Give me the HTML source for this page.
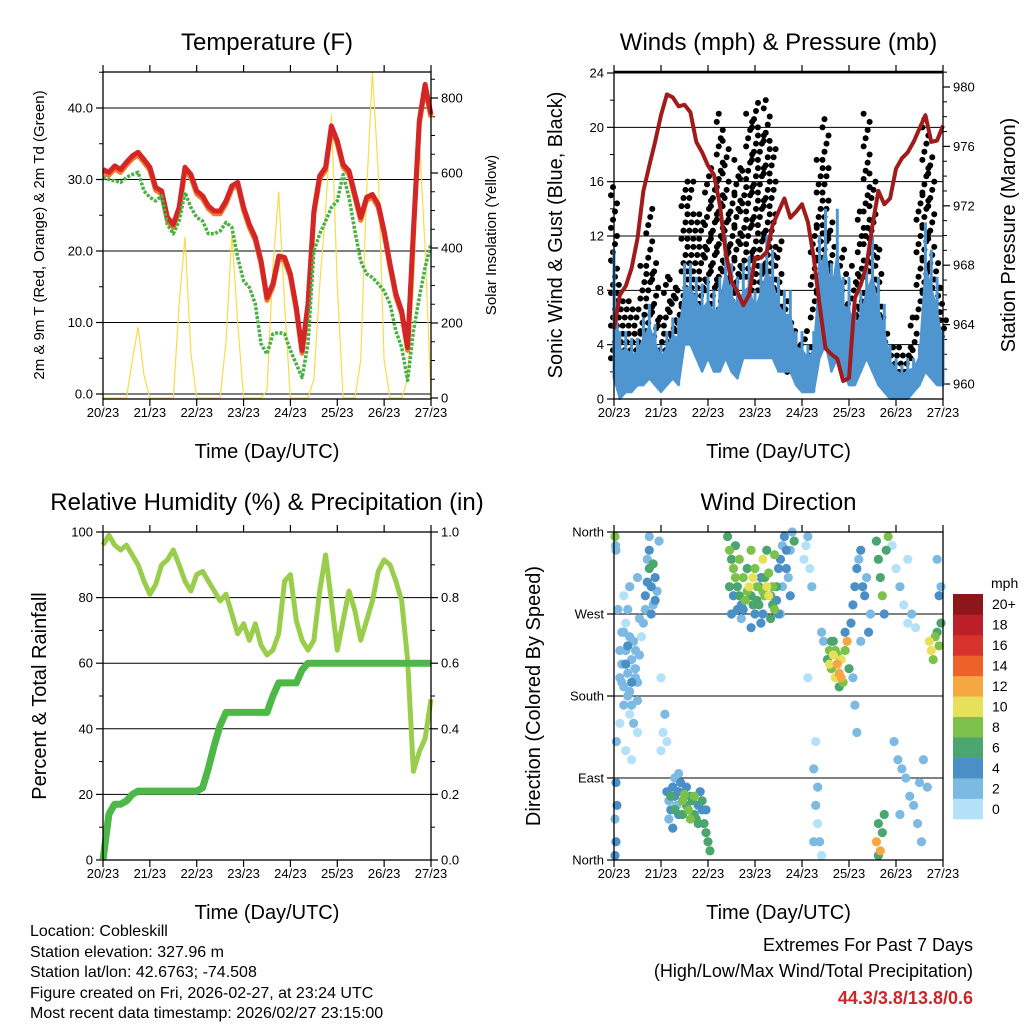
<!DOCTYPE html>
<html><head><meta charset="utf-8">
<style>
html,body{margin:0;padding:0;background:#fff;}
svg{display:block;font-family:"Liberation Sans Narrow","Liberation Sans",sans-serif;}
</style></head>
<body>
<svg id="fig" width="1024" height="1024" viewBox="0 0 1024 1024" xmlns="http://www.w3.org/2000/svg">
<g id="g1"></g>
<g id="g2"></g>
<g id="g3"></g>
<g id="g4"></g>
<g id="gtext" font-size="16" fill="#000">
<text x="30" y="936">Location: Cobleskill</text>
<text x="30" y="957">Station elevation: 327.96 m</text>
<text x="30" y="977">Station lat/lon: 42.6763; -74.508</text>
<text x="30" y="998">Figure created on Fri, 2026-02-27, at 23:24 UTC</text>
<text x="30" y="1018">Most recent data timestamp: 2026/02/27 23:15:00</text>
<text x="973" y="951" text-anchor="end" font-size="18">Extremes For Past 7 Days</text>
<text x="973" y="977" text-anchor="end" font-size="18">(High/Low/Max Wind/Total Precipitation)</text>
<text x="973" y="1004" text-anchor="end" font-size="18" font-weight="bold" fill="#c8282d">44.3/3.8/13.8/0.6</text>
</g>
</svg>
<script>
// ---------- data (3-hourly samples, hours since 20/23) ----------
const dayLabels=["20/23","21/23","22/23","23/23","24/23","25/23","26/23","27/23"];
const tempRed=[31.4,31.0,31.9,31.4,32.4,33.3,33.8,32.8,31.7,28.9,28.4,24.7,23.7,26.1,31.7,30.7,28.4,27.7,26.3,25.6,25.6,27.0,29.1,29.6,26.1,23.7,21.9,18.6,13.5,15.4,19.3,19.1,16.8,12.1,6.1,12.6,25.6,30.5,31.7,37.5,35.4,32.1,31.2,27.9,24.7,27.5,27.9,26.5,22.8,18.2,14.0,11.6,6.5,22.8,38.2,43.3,39.1];
const dewGreen=[30.3,30.0,29.8,29.6,30.3,30.7,31.0,28.4,27.5,27.0,27.7,23.7,22.4,24.2,28.2,26.1,24.7,24.2,22.4,22.4,22.8,24.0,23.3,19.1,15.8,14.9,12.6,7.0,5.6,8.4,8.6,8.4,6.1,4.2,2.3,7.0,20.0,22.4,24.2,26.1,27.0,30.7,27.5,22.8,18.6,16.8,16.3,15.4,14.4,12.6,8.8,6.5,1.9,8.8,13.5,17.7,21.0];
const solar=[0,0,0,0,0,100,190,60,0,0,0,0,0,250,430,120,0,0,0,0,0,150,440,200,0,0,0,0,20,350,550,250,0,0,0,0,50,300,500,755,300,0,0,0,100,550,870,600,100,0,0,0,50,300,690,400,0];
const pressure=[963.7,966.0,966.6,967.8,969.8,973.0,974.7,976.3,978.1,979.5,979.3,978.7,978.8,978.3,976.3,975.6,974.7,974.1,972.1,968.9,966.9,966.2,965.3,966.0,968.5,968.5,968.9,970.7,971.6,972.5,971.2,971.6,972.1,970.9,968.5,965.3,962.4,962.0,961.7,960.2,960.4,965.8,966.7,968.0,970.7,973.0,972.1,972.5,974.5,975.2,975.6,976.3,977.2,978.1,976.3,976.4,977.4];
const windHi=[11,5,5,4.5,4.5,6,7,5.5,4,5,6,6,10,10,9,8.5,9,8,9,12,10,9,10,10.5,8,10,12,11,9,8,8,5,5,4,5,12,14,10,14,9,9,7,8,10,12,9,7,4,3,2.5,3,3,4,13,11,9,5];
const windLo=[1.5,0,0.5,0.5,1,1,1.5,1,0.5,1,1.5,1,4,4,3,2,3,2,2,3,2,1.5,3,3,3,3,3,3,2,2,2,1,0.5,0.5,0.5,3,4,2,3,2,1,1,2,3,2,1,0.5,0,0,0,0,0.5,1,2,1.5,1,1];
const gustHi=[16,8.5,7.5,7,7,10,14,10,6,9,9,8,16,16,14,13,17,16,21,19,15,18,17,21,22,20,22,19,12,8,6,5,4,5,13,18,21,13,9,11,7,10,14,21,17,11,6,4,4,3.5,4,6,15,21,18,10,7];
const gustLo=[3,3,3,3,3,5,5,4,3,3,4,5,7,7,7,7,8,7,6,7,6,8,9,9,8,8,7,7,5,3,2,2,1,2,6,8,8,7,6,5,4,5,6,9,7,5,3,2,2,2,2,3,6,8,7,4,4];
const rh=[96,99,96,94.5,96,93,90,85,81,84,90,91.5,94.5,90,85,82,87,88,85,82,79,81,75,69,72,67,72,65.5,62.5,64,69,85,87,73,67,64,67,82,93,79,64,73,82,76,67,73,79,88,91.5,90,85,79,61,27,33,37,49];
const precip=[0,0.14,0.17,0.17,0.18,0.2,0.21,0.21,0.21,0.21,0.21,0.21,0.21,0.21,0.21,0.21,0.21,0.22,0.28,0.35,0.41,0.45,0.45,0.45,0.45,0.45,0.45,0.45,0.45,0.5,0.54,0.54,0.54,0.54,0.58,0.6,0.6,0.6,0.6,0.6,0.6,0.6,0.6,0.6,0.6,0.6,0.6,0.6,0.6,0.6,0.6,0.6,0.6,0.6,0.6,0.6,0.6];
// wind direction points
const dirTime=[0.5,1,0.5,1,1.5,0.5,1,1.2,0.8,
3,4,5,6,7,8,9,10,11,12,4,6,8,10,12,5,7,9,11,13,3,6,9,14,2,5,8,12,13,7,
16,17,18,19,20,21,17,19,22,18,20,16,21,15,23,18,
27,28,29,30,31,32,33,34,35,36,37,38,39,40,41,42,43,44,45,46,47,48,49,28,31,33,30,24,25,26,24,27,
58,59,60,61,62,63,64,65,66,67,68,69,70,71,72,73,74,75,76,77,78,79,80,81,82,83,84,85,86,87,88,89,90,91,92,60,65,70,75,80,85,72,76,78,82,
97,98,99,100,101,102,103,104,105,106,103,104,102,99,
109,110,111,112,113,114,115,116,117,118,119,120,112,115,118,106,107,122,123,124,
121,122,123,124,125,126,127,128,129,130,131,126,
134,135,136,137,138,139,140,134,135,136,137,138,135,
142,144,146,148,150,143,145,147,149,151,153,155,157,150,152,154,156,158,146,160,
161,162,163,164,165,166,167,166,167,165,
59,61,63,64,66,68,70,71,73,74,76,77,79,81,83,84,86,88,90,62,
29,31,33,35,37,39,41,43,45,47,
3,5,7,9,11,4,6,8,10,12,
110,113,116,114,111];
const dirDeg=[5,20,355,340,60,45,85,130,345,
200,215,190,230,205,185,220,240,200,175,250,260,160,150,140,170,235,195,210,225,150,120,110,245,275,290,300,310,265,275,
290,305,320,300,280,310,330,270,295,340,325,275,285,260,350,355,
75,65,55,80,70,60,50,85,65,72,60,55,70,65,50,45,60,75,55,40,30,20,10,45,90,95,35,120,140,160,200,130,
355,340,330,320,310,300,290,280,275,285,295,300,290,280,270,285,300,310,295,290,300,315,290,280,275,300,320,330,345,355,340,310,290,360,350,270,265,255,260,265,270,320,330,340,335,
330,345,355,320,300,100,60,40,20,5,130,80,20,200,
220,230,210,225,200,215,205,220,195,230,240,210,240,190,250,250,240,200,170,140,
260,280,300,320,330,340,300,290,310,250,270,240,
350,330,310,290,270,340,355,20,40,10,30,50,5,
345,320,300,280,260,130,110,100,90,70,60,40,20,330,270,255,85,110,50,80,
240,230,220,245,250,235,260,290,300,330,
300,290,275,330,310,320,340,310,300,280,270,310,290,300,285,270,300,320,340,345,
70,55,75,50,80,45,70,40,65,55,
230,250,180,170,230,195,215,245,210,195,
215,230,200,225,240];
const dirSpeed=[4,5,9,3,5,2,4,3,2,
2,3,2,2,3,2,3,2,3,2,2,1,1,2,1,3,4,4,3,2,1,1,1,1,2,1,2,2,3,2,
4,5,6,4,3,5,3,4,2,4,7,3,5,2,2,2,
4,3,5,4,5,3,4,5,8,9,7,8,7,6,7,6,5,4,5,6,6,7,6,3,2,2,4,1,1,2,1,1,
7,8,7,9,8,6,7,5,4,8,9,10,7,6,5,6,7,4,8,9,10,8,7,6,8,7,5,4,3,4,5,3,4,3,6,4,3,4,5,6,3,9,10,7,8,
1,1,2,1,2,2,2,1,2,1,1,2,2,1,
7,8,9,10,11,12,13,10,9,8,12,7,6,7,4,2,3,3,3,2,
4,4,5,4,3,4,5,4,3,4,3,3,
7,7,6,8,5,6,9,12,7,12,6,6,6,
1,1,2,1,1,2,2,3,2,2,3,2,2,1,2,1,3,2,2,3,
10,11,8,9,7,8,6,4,3,2,
6,5,4,8,9,7,8,10,9,7,5,6,11,9,5,4,3,4,3,6,
6,6,4,7,5,8,9,6,7,5,
2,3,2,2,2,3,4,3,1,2,
10,9,12,8,7];
const speedLabels=["0","2","4","6","8","10","12","14","16","18","20+"];
const speedColors=["#b3e1f7","#7cb9e3","#4a90c7","#4aa56e","#7cc24a","#e6e05a","#f5a742","#ee6129","#d7322c","#bb1f27","#8e1519"];

// ---------- helpers ----------
const NS="http://www.w3.org/2000/svg";
function mk(parent,tag,attrs,txt){const e=document.createElementNS(NS,tag);for(const k in attrs)e.setAttribute(k,attrs[k]);if(txt!==undefined)e.textContent=txt;parent.appendChild(e);return e;}
const T=solar.map((_,i)=>i*3);
function xScale(x0,x1){return t=>x0+(x1-x0)*t/168;}
function lin(d0,d1,r0,r1){return v=>r0+(v-d0)*(r1-r0)/(d1-d0);}
function pathFrom(xs,ys){return xs.map((x,i)=>(i?'L':'M')+x.toFixed(1)+' '+ys[i].toFixed(1)).join(' ');}

function frame(g,x0,x1,y0,y1,title,xtitle){
  const t=mk(g,'text',{x:(x0+x1)/2,y:y0-22,'text-anchor':'middle','font-size':24},title);
  
  
  const xs=xScale(x0,x1);
  for(let d=0;d<=7;d++){
    const x=xs(d*24);
    const tk=mk(g,'line',{x1:x,x2:x,y1:y1,y2:y1+7,stroke:'#000','stroke-width':1.2});
    
    
    mk(g,'line',{x1:x,x2:x,y1:y0,y2:y0-7,stroke:'#000','stroke-width':1.2});
    const lb=mk(g,'text',{x:x,y:y1+18,'text-anchor':'middle','font-size':13},dayLabels[d]);
    
    
  }
  const xt=mk(g,'text',{x:(x0+x1)/2,y:y1+59,'text-anchor':'middle','font-size':20},xtitle);
  
  
}
function border(g,x0,x1,y0,y1){
  const b=mk(g,'rect',{x:x0,y:y0,width:x1-x0,height:y1-y0,fill:'none',stroke:'#000','stroke-width':1.3});
  
  
}
function yTicks(g,vals,labels,sc,x,side,grid,x0,x1,minor,fs){
  vals.forEach((v,i)=>{
    const y=sc(v);
    if(grid){const gl=mk(g,'line',{x1:x0,x2:x1,y1:y,y2:y,stroke:'#000','stroke-width':1});
      
      }
    mk(g,'line',{x1:x,x2:x+side*7,y1:y,y2:y,stroke:'#000','stroke-width':1.2});
    const lb=mk(g,'text',{x:x+side*10,y:y+4.5,'text-anchor':side<0?'end':'start','font-size':fs||13},labels[i]);
    
    
  });
  (minor||[]).forEach(v=>{const y=sc(v);mk(g,'line',{x1:x,x2:x+side*4,y1:y,y2:y,stroke:'#000','stroke-width':1});});
}
function vlabel(g,x,y,txt,fs,name){
  const t=mk(g,'text',{x:x,y:y,'text-anchor':'middle','font-size':fs,transform:`rotate(-90 ${x} ${y})`},txt);
  
  
}

// ---------- panel 1: temperature ----------
(function(){
  const g=document.getElementById('g1');const x0=103,x1=431,y0=72,y1=399;
  const xs=xScale(x0,x1), yT=lin(0,40,394,108), yS=lin(0,800,398,98);
  frame(g,x0,x1,y0,y1,'Temperature (F)','Time (Day/UTC)');
  yTicks(g,[0,10,20,30,40],['0.0','10.0','20.0','30.0','40.0'],yT,x0,-1,true,x0,x1,[5,15,25,35,45]);
  yTicks(g,[0,200,400,600,800],['0','200','400','600','800'],yS,x1,1,false,x0,x1,[50,100,150,250,300,350,450,500,550,650,700,750,850]);
  const X=T.map(xs);
  const s=mk(g,'path',{d:pathFrom(X,solar.map(yS)),fill:'none',stroke:'#f7dc4a','stroke-width':1.2});
  
  
  const o=mk(g,'path',{d:pathFrom(X,tempRed.map(v=>yT(v-0.4))),fill:'none',stroke:'#f07a2a','stroke-width':5,'stroke-linejoin':'round'});
  
  
  const r=mk(g,'path',{d:pathFrom(X,tempRed.map(yT)),fill:'none',stroke:'#d42527','stroke-width':5,'stroke-linejoin':'round'});
  
  
  const d=mk(g,'path',{d:pathFrom(X,dewGreen.map(yT)),fill:'none',stroke:'#4bb043','stroke-width':3.5,'stroke-dasharray':'3 1.5','stroke-linejoin':'round'});
  
  
  border(g,x0,x1,y0,y1);
  vlabel(g,44,235,'2m & 9m T (Red, Orange) & 2m Td (Green)',15,'y-axis-title-left');
  vlabel(g,496,235,'Solar Insolation (Yellow)',15,'y-axis-title-right');
})();

// ---------- panel 2: winds & pressure ----------
(function(){
  const g=document.getElementById('g2');const x0=614,x1=943,y0=72,y1=399;
  const xs=xScale(x0,x1), yW=lin(0,24,399,73), yP=lin(960,980,384,87);
  frame(g,x0,x1,y0,y1,'Winds (mph) & Pressure (mb)','Time (Day/UTC)');
  yTicks(g,[0,4,8,12,16,20,24],['0','4','8','12','16','20','24'],yW,x0,-1,true,x0,x1,[2,6,10,14,18,22]);
  yTicks(g,[960,964,968,972,976,980],['960','964','968','972','976','980'],yP,x1,1,false,x0,x1,[961,962,963,965,966,967,969,970,971,973,974,975,977,978,979,981]);
  const X=T.map(xs);
  const gd=mk(g,'g',{fill:'#000'});
  
  
  gustHi.forEach((hi,i)=>{
    const lo=gustLo[i];let k=0;
    for(let v=lo;v<=hi+0.01;v+=0.6){
      const c=mk(gd,'circle',{cx:X[i]+((k%4)-1.5)*2,cy:yW(v),r:3});
      
      
      k++;
    }
  });
  const spikes=mk(g,'path',{d:X.map((x,i)=>`M${x.toFixed(1)} ${yW(windLo[i]).toFixed(1)}V${yW(windHi[i]).toFixed(1)}`).join(''),stroke:'#4f95d0','stroke-width':3,fill:'none'});
  
  
  const up=X.map((x,i)=>x.toFixed(1)+','+yW(windLo[i]+(windHi[i]-windLo[i])*0.7).toFixed(1));
  const dn=X.map((x,i)=>x.toFixed(1)+','+yW(windLo[i]).toFixed(1)).reverse();
  const b=mk(g,'polygon',{points:up.concat(dn).join(' '),fill:'#4f95d0',stroke:'#4f95d0','stroke-width':2,'stroke-linejoin':'round'});
  
  
  const p=mk(g,'path',{d:pathFrom(X,pressure.map(yP)),fill:'none',stroke:'#a01c1c','stroke-width':4,'stroke-linejoin':'round'});
  
  
  mk(g,'line',{x1:x0,x2:x1,y1:y0,y2:y0,stroke:'#000','stroke-width':2.5});
  border(g,x0,x1,y0,y1);
  vlabel(g,562,235,'Sonic Wind & Gust (Blue, Black)',20,'y-axis-title-left');
  vlabel(g,1015,235,'Station Pressure (Maroon)',20,'y-axis-title-right');
})();

// ---------- panel 3: RH & precipitation ----------
(function(){
  const g=document.getElementById('g3');const x0=103,x1=431,y0=532,y1=860;
  const xs=xScale(x0,x1), yR=lin(0,100,860,532), yPr=lin(0,1,860,532);
  frame(g,x0,x1,y0,y1,'Relative Humidity (%) & Precipitation (in)','Time (Day/UTC)');
  yTicks(g,[0,20,40,60,80,100],['0','20','40','60','80','100'],yR,x0,-1,true,x0,x1,[10,30,50,70,90]);
  yTicks(g,[0,0.2,0.4,0.6,0.8,1.0],['0.0','0.2','0.4','0.6','0.8','1.0'],yPr,x1,1,false,x0,x1,[0.1,0.3,0.5,0.7,0.9]);
  const X=T.map(xs);
  const r=mk(g,'path',{d:pathFrom(X,rh.map(yR)),fill:'none',stroke:'#9acd4c','stroke-width':5,'stroke-linejoin':'round'});
  
  
  const p=mk(g,'path',{d:pathFrom(X,precip.map(yPr)),fill:'none',stroke:'#4db848','stroke-width':7,'stroke-linejoin':'round'});
  
  
  border(g,x0,x1,y0,y1);
  vlabel(g,46,696,'Percent & Total Rainfall',20,'y-axis-title-left');
})();

// ---------- panel 4: wind direction ----------
(function(){
  const g=document.getElementById('g4');const x0=614,x1=943,y0=532,y1=860;
  const xs=xScale(x0,x1), yD=lin(0,360,860,532);
  frame(g,x0,x1,y0,y1,'Wind Direction','Time (Day/UTC)');
  yTicks(g,[0,90,180,270,360],['North','East','South','West','North'],yD,x0,-1,true,x0,x1,[]);
  const pts=mk(g,'g',{});
  
  
  const order=dirTime.map((_,i)=>i).sort((a,b)=>dirSpeed[a]-dirSpeed[b]);
  order.forEach(i=>{
    const bin=Math.min(10,Math.floor(dirSpeed[i]/2));
    const c=mk(pts,'circle',{cx:xs(dirTime[i]),cy:yD(dirDeg[i]),r:4.6,fill:speedColors[bin]});
    
    
  });
  border(g,x0,x1,y0,y1);
  vlabel(g,540,696,'Direction (Colored By Speed)',20,'y-axis-title-left');
  // colorbar
  const cb=mk(g,'g',{});
  
  
  const bh=225/11;
  for(let k=0;k<11;k++){
    const y=594+(10-k)*bh;
    const rc=mk(cb,'rect',{x:953,y:y,width:30,height:bh+0.3,fill:speedColors[k]});
    
    
    const lb=mk(cb,'text',{x:992,y:y+bh/2+5,'font-size':14},speedLabels[k]);
    
    
  }
  const u=mk(cb,'text',{x:991,y:588,'font-size':14},'mph');
  
  
})();
</script>
</body></html>
